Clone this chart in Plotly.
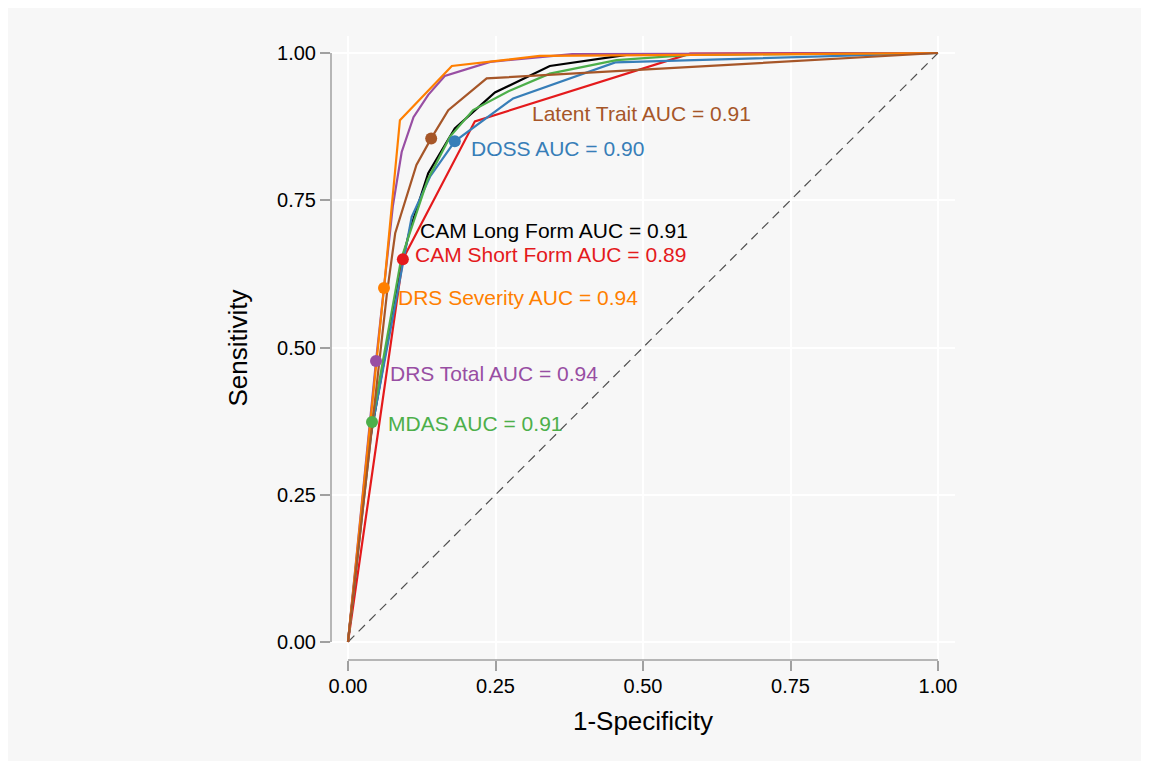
import plotly.graph_objects as go

# ROC curve vertices (1-specificity, sensitivity)
cam_long_x = [0, 0.035, 0.09, 0.105, 0.136, 0.181, 0.249, 0.342, 0.472, 1]
cam_long_y = [0, 0.33, 0.64, 0.70, 0.796, 0.872, 0.933, 0.978, 0.997, 1]

cam_short_x = [0, 0.093, 0.215, 0.58, 1]
cam_short_y = [0, 0.650, 0.884, 0.999, 1]

doss_x = [0, 0.04, 0.108, 0.139, 0.181, 0.280, 0.453, 1]
doss_y = [0, 0.36, 0.722, 0.79, 0.85, 0.923, 0.984, 1]

mdas_x = [0, 0.0407, 0.09, 0.135, 0.173, 0.212, 0.272, 0.342, 0.455, 0.58, 1]
mdas_y = [0, 0.3735, 0.65, 0.785, 0.858, 0.903, 0.935, 0.965, 0.988, 0.997, 1]

drs_total_x = [0, 0.0475, 0.076, 0.091, 0.111, 0.136, 0.164, 0.241, 0.38, 1]
drs_total_y = [0, 0.477, 0.74, 0.832, 0.891, 0.929, 0.961, 0.985, 0.998, 1]

drs_sev_x = [0, 0.061, 0.088, 0.176, 0.325, 1]
drs_sev_y = [0, 0.601, 0.886, 0.978, 0.995, 1]

latent_x = [0, 0.066, 0.080, 0.099, 0.116, 0.141, 0.170, 0.235, 1]
latent_y = [0, 0.592, 0.694, 0.756, 0.81, 0.855, 0.903, 0.957, 1]

# operating-point markers (x, y); None = no marker shown
cam_long_pt = None
cam_short_pt = (0.093, 0.650)
doss_pt = (0.181, 0.850)
mdas_pt = (0.0407, 0.3735)
drs_total_pt = (0.0475, 0.477)
drs_sev_pt = (0.061, 0.601)
latent_pt = (0.141, 0.855)

names = ["CAM Long Form", "CAM Short Form", "DOSS", "MDAS",
         "DRS Total", "DRS Severity", "Latent Trait"]
aucs = [0.91, 0.89, 0.90, 0.91, 0.94, 0.94, 0.91]

tick_vals = [0, 0.25, 0.5, 0.75, 1]
tick_text = ["0.00", "0.25", "0.50", "0.75", "1.00"]

series_x = [cam_long_x, cam_short_x, doss_x, mdas_x, drs_total_x, drs_sev_x, latent_x]
series_y = [cam_long_y, cam_short_y, doss_y, mdas_y, drs_total_y, drs_sev_y, latent_y]
points = [cam_long_pt, cam_short_pt, doss_pt, mdas_pt, drs_total_pt, drs_sev_pt, latent_pt]
colors = ["#000000", "#e41a1c", "#377eb8", "#4daf4a", "#984ea3", "#ff7f00", "#a65628"]
# label anchor positions (left edge, vertical centre) in data units
label_pos = [(0.118, 0.6995), (0.110, 0.658), (0.205, 0.8387), (0.064, 0.3718),
             (0.068, 0.4559), (0.081, 0.5846), (0.308, 0.898)]

BG = "#f7f7f7"
FONT = "Liberation Sans, Arial, Helvetica, sans-serif"
AX = "#a0a0a0"

fig = go.Figure()
fig.add_trace(go.Scatter(x=[0, 1], y=[0, 1], mode="lines",
                         line=dict(color="#505050", width=1.2, dash="9px,6px"),
                         hoverinfo="skip", showlegend=False))

for nm, xs, ys, col in zip(names, series_x, series_y, colors):
    fig.add_trace(go.Scatter(x=xs, y=ys, mode="lines", name=nm,
                             line=dict(color=col, width=2.2), showlegend=False))

for nm, pt, col in zip(names, points, colors):
    if pt is None:
        continue
    fig.add_trace(go.Scatter(x=[pt[0]], y=[pt[1]], mode="markers", name=nm,
                             marker=dict(color=col, size=12), showlegend=False))

for nm, auc, pos, col in zip(names, aucs, label_pos, colors):
    fig.add_annotation(x=pos[0], y=pos[1], xref="x", yref="y",
                       text=f"{nm} AUC = {auc:.2f}", showarrow=False,
                       xanchor="left", yanchor="middle",
                       font=dict(family=FONT, size=21, color=col))

# axis lines spanning only the 0..1 data range
fig.add_shape(type="line", xref="x", yref="paper", x0=0, x1=1, y0=0, y1=0,
              line=dict(color=AX, width=1.5))
fig.add_shape(type="line", xref="paper", yref="y", x0=0, x1=0, y0=0, y1=1,
              line=dict(color=AX, width=1.5))

axis_common = dict(
    tickvals=tick_vals, ticktext=tick_text, ticks="outside", ticklen=10,
    tickwidth=1.5, tickcolor=AX, showline=False, zeroline=False,
    showgrid=True, gridcolor="#ffffff", gridwidth=1.5,
    tickfont=dict(family=FONT, size=20, color="#000000"),
)

fig.update_layout(
    width=1133, height=753,
    margin=dict(l=323, r=186, t=28, b=101),
    paper_bgcolor=BG, plot_bgcolor=BG,
    font=dict(family=FONT, color="#000000"),
    xaxis=dict(range=[-0.02881, 1.02881],
               title=dict(text="1-Specificity", font=dict(family=FONT, size=26), standoff=15),
               **axis_common),
    yaxis=dict(range=[-0.0306, 1.0289],
               title=dict(text="Sensitivity", font=dict(family=FONT, size=26), standoff=21),
               **axis_common),
)
fig.update_xaxes(ticklabelstandoff=-2)

fig.write_html("out.html")
